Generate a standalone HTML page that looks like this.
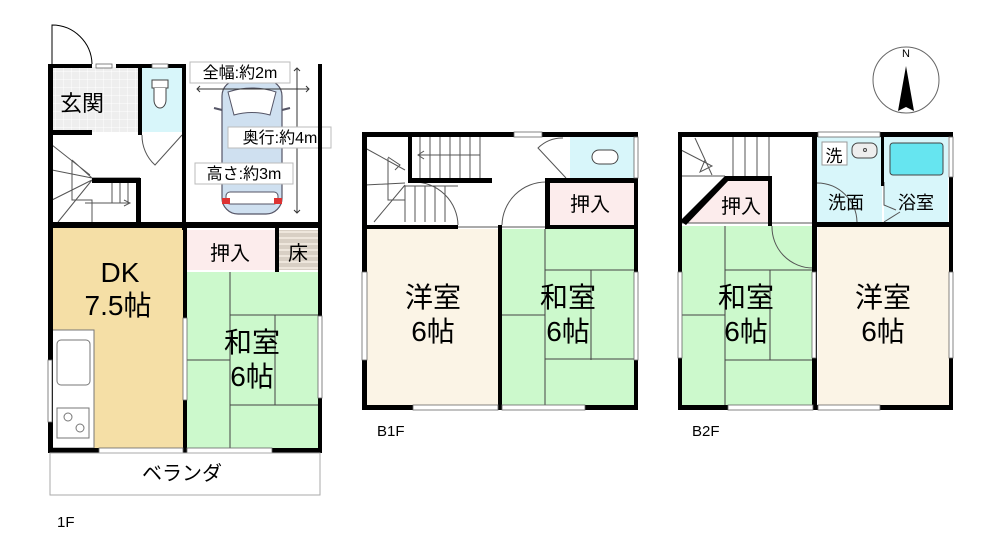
<!DOCTYPE html>
<html><head><meta charset="utf-8"><style>
html,body{margin:0;padding:0;background:#fff;width:1000px;height:550px;overflow:hidden}
svg{display:block}
text{font-family:"Liberation Sans","Noto Sans CJK JP",sans-serif;fill:#000}
</style></head><body>
<svg width="1000" height="550" viewBox="0 0 1000 550" xmlns="http://www.w3.org/2000/svg">
<defs>
<pattern id="grid" width="8" height="8" patternUnits="userSpaceOnUse"><rect width="8" height="8" fill="#eee"/><path d="M8 0V8H0" fill="none" stroke="#fff" stroke-width="1"/></pattern>
<pattern id="stripe" width="6" height="6" patternUnits="userSpaceOnUse"><rect width="6" height="6" fill="#d8cfc4"/><rect y="3" width="6" height="2" fill="#eee6dc"/></pattern>
</defs>
<!-- ===== 1F ===== -->
<path d="M52 64 V25 A40 40 0 0 1 92 64" fill="none" stroke="#000" stroke-width="1"/>
<rect x="52" y="67" width="89" height="65" fill="url(#grid)"/>
<rect x="141" y="67" width="41" height="65" fill="#d8f6fa"/>
<rect x="152" y="80" width="16" height="8" fill="#fff" stroke="#444"/>
<path d="M154 88 V100 A6 8 0 0 0 166 100 V88" fill="#fff" stroke="#444"/>
<rect x="52" y="228" width="131" height="220" fill="#f5dfa6"/>
<rect x="52" y="330" width="42" height="118" fill="#fff" stroke="#777" stroke-width="1"/>
<rect x="57" y="340" width="33" height="45" rx="4" fill="#fff" stroke="#777"/>
<rect x="57" y="408" width="32" height="30" fill="#fff" stroke="#777"/>
<circle cx="68" cy="417" r="4" fill="none" stroke="#777"/><circle cx="80" cy="428" r="4" fill="none" stroke="#777"/>
<rect x="187" y="230" width="88" height="40" fill="#fcecec"/>
<rect x="279" y="230" width="39" height="40" fill="url(#stripe)"/>
<rect x="187" y="272" width="131" height="176" fill="#ccf9cc"/>
<g stroke="#444" stroke-width="1" fill="none">
<path d="M230 272V448M230 315H318M275 315V405M230 405H318M187 360H230"/>
</g>
<!-- stairs 1F -->
<g stroke="#555" stroke-width="1" fill="none">
<path d="M52 145L90 175M52 170L92 178M72 160L92 178M72 160V200H92M52 200L92 180M58 222L92 180M92 178H140M112 182V203M120 182V203M128 182V203M72 200H92 V222"/>
<path d="M85 203H130M124 200L130 203L124 206"/>
<path d="M142 135 A40 40 0 0 0 155 165 L182 135"/>
</g>
<!-- car -->
<g>
<rect x="222" y="80" width="60" height="134" rx="16" fill="#cfe0f0" stroke="#556" stroke-width="1.2"/>
<path d="M228 92 Q252 84 276 92 L270 115 Q252 110 234 115 Z" fill="#fff" stroke="#556"/>
<rect x="226" y="192" width="52" height="12" rx="4" fill="#fff" stroke="#556"/>
<rect x="222" y="198" width="8" height="6" fill="#d33"/><rect x="274" y="198" width="8" height="6" fill="#d33"/>
<path d="M214 108L222 110M290 108L282 110" stroke="#556" stroke-width="2"/>
</g>
<g stroke="#333" stroke-width="1" fill="none">
<path d="M197 89H309M200 86L197 89L200 92M306 86L309 89L306 92"/>
<path d="M297 68V213M294 71L297 68L300 71M294 210L297 213L300 210"/>
</g>
<rect x="190" y="62" width="100" height="21" fill="#fff" stroke="#bbb"/>
<text x="240" y="78" font-size="16" text-anchor="middle">全幅:約2m</text>
<rect x="228" y="127" width="103" height="21" fill="#fff" stroke="#bbb"/>
<text x="280" y="143" font-size="16" text-anchor="middle">奥行:約4m</text>
<rect x="195" y="163" width="98" height="21" fill="#fff" stroke="#bbb"/>
<text x="244" y="179" font-size="16" text-anchor="middle">高さ:約3m</text>
<!-- 1F walls -->
<g fill="#000">
<rect x="48" y="64" width="5" height="389"/>
<rect x="48" y="64" width="44" height="4"/><rect x="116" y="64" width="70" height="4"/>
<rect x="138" y="64" width="4" height="70"/>
<rect x="182" y="64" width="4" height="166"/>
<rect x="318" y="64" width="4" height="389"/>
<rect x="48" y="130" width="44" height="5"/><rect x="138" y="130" width="4" height="5"/>
<rect x="92" y="178" width="48" height="5"/><rect x="136" y="178" width="5" height="44"/>
<rect x="48" y="222" width="274" height="6"/>
<rect x="183" y="228" width="4" height="225"/>
<rect x="275" y="228" width="4" height="44"/>
<rect x="48" y="448" width="274" height="5"/>
</g>
<g fill="#fff" stroke="#666" stroke-width="0.8">
<rect x="96" y="64" width="16" height="4"/><rect x="152" y="64" width="16" height="4"/>
<rect x="99" y="448" width="84" height="5"/><rect x="187" y="448" width="85" height="5"/>
<rect x="48" y="360" width="4" height="62"/><rect x="183" y="318" width="4" height="82"/>
<rect x="318" y="316" width="4" height="82"/>
</g>
<rect x="50" y="453" width="270" height="42" fill="none" stroke="#aaa"/>
<text x="82" y="111" font-size="22" text-anchor="middle">玄関</text>
<text x="120" y="282" font-size="28" text-anchor="middle">DK</text>
<text x="118" y="315" font-size="28" text-anchor="middle">7.5帖</text>
<text x="230" y="260" font-size="20" text-anchor="middle">押入</text>
<text x="298" y="260" font-size="20" text-anchor="middle">床</text>
<text x="252" y="352" font-size="28" text-anchor="middle">和室</text>
<text x="252" y="386" font-size="28" text-anchor="middle">6帖</text>
<text x="182" y="480" font-size="20" text-anchor="middle">ベランダ</text>
<text x="57" y="527" font-size="15">1F</text>
<!-- ===== B1F ===== -->
<rect x="570" y="137" width="64" height="41" fill="#d8f6fa"/>
<rect x="592" y="150" width="26" height="14" rx="7" fill="#fff" stroke="#444"/>
<rect x="548" y="183" width="86" height="42" fill="#fcecec"/>
<rect x="366" y="229" width="132" height="176" fill="#fbf4e6"/>
<rect x="502" y="229" width="132" height="176" fill="#ccf9cc"/>
<g stroke="#444" stroke-width="1" fill="none">
<path d="M545 229V405M545 270H634M591 270V360M545 359H634M502 315H545"/>
</g>
<g stroke="#555" stroke-width="1" fill="none">
<path d="M365 148L405 170M365 185L405 183M388 158V200H405M374 222L405 185M388 157L400 165L395 170"/>
<path d="M410 135V178M420 135V178M430 135V178M440 135V178M450 135V178M460 135V178M470 135V178M480 135V178"/>
<path d="M418 155H480M424 151L418 155L424 159"/>
<path d="M405 186V222M415 186V222M425 186V222M435 186V222M445 186V222M405 186H458"/>
<path d="M458 225 A44 44 0 0 0 414 182M502 225 A44 44 0 0 1 546 182"/>
<path d="M563 138 A35 35 0 0 0 538 148 L566 178"/>
<path d="M458 227H545"/>
</g>
<g fill="#000">
<rect x="362" y="132" width="276" height="5"/>
<rect x="362" y="132" width="5" height="278"/>
<rect x="634" y="132" width="4" height="278"/>
<rect x="408" y="135" width="4" height="47"/>
<rect x="408" y="178" width="84" height="5"/>
<rect x="545" y="178" width="93" height="5"/>
<rect x="545" y="178" width="5" height="51"/>
<rect x="362" y="225" width="96" height="4"/>
<rect x="545" y="225" width="93" height="4"/>
<rect x="498" y="225" width="4" height="185"/>
<rect x="362" y="405" width="276" height="5"/>
</g>
<g fill="#fff" stroke="#666" stroke-width="0.8">
<rect x="514" y="132" width="28" height="5"/>
<rect x="413" y="405" width="85" height="5"/><rect x="502" y="405" width="83" height="5"/>
<rect x="362" y="272" width="5" height="88"/><rect x="634" y="272" width="4" height="88"/>
<rect x="634" y="137" width="4" height="41"/>
</g>
<text x="433" y="307" font-size="28" text-anchor="middle">洋室</text>
<text x="433" y="341" font-size="28" text-anchor="middle">6帖</text>
<text x="568" y="307" font-size="28" text-anchor="middle">和室</text>
<text x="568" y="341" font-size="28" text-anchor="middle">6帖</text>
<text x="590" y="211" font-size="20" text-anchor="middle">押入</text>
<text x="377" y="436" font-size="15">B1F</text>
<!-- ===== B2F ===== -->
<circle cx="906" cy="80" r="33" fill="none" stroke="#666"/>
<text x="906" y="57" font-size="11" text-anchor="middle" font-family="Liberation Serif">N</text>
<path d="M906 66L898 111L906 107L914 111Z" fill="#000"/>
<rect x="817" y="136" width="65" height="86" fill="#d8f6fa"/>
<rect x="884" y="136" width="64" height="86" fill="#d8f6fa"/>
<rect x="890" y="143" width="53" height="32" rx="3" fill="#66e5f0" stroke="#444"/>
<rect x="822" y="142" width="25" height="23" fill="#fff" stroke="#999"/>
<rect x="852" y="143" width="25" height="15" rx="6" fill="#eee" stroke="#444"/>
<circle cx="865" cy="150" r="1.5" fill="none" stroke="#444"/>
<path d="M683 223L725 178H771V222Z" fill="#fcecec"/>
<rect x="681" y="226" width="132" height="179" fill="#ccf9cc"/>
<rect x="818" y="226" width="131" height="179" fill="#fbf4e6"/>
<g stroke="#444" stroke-width="1" fill="none">
<path d="M725 226V405M725 270H813M770 270V360M725 360H813M681 315H725"/>
</g>
<g stroke="#555" stroke-width="1" fill="none">
<path d="M733 136V178M745 136V178M757 136V178M769 136V178M681 176H725"/>
<path d="M695 138L712 175M681 150L712 166L700 172L705 160"/>
<path d="M772 226 A41 41 0 0 0 813 268M681 223H813"/>
<path d="M817 183 A40 40 0 0 1 857 222M884 182V205L896 210M884 222L900 212"/>
</g>
<g fill="#000">
<rect x="678" y="132" width="275" height="5"/>
<rect x="678" y="132" width="4" height="278"/>
<rect x="949" y="132" width="4" height="278"/>
<rect x="812" y="132" width="5" height="278"/>
<rect x="881" y="136" width="3" height="50"/>
<rect x="725" y="176" width="47" height="5"/>
<rect x="768" y="176" width="4" height="50"/>
<path d="M680 221L725 176L729 180L686 225Z"/>
<rect x="812" y="222" width="141" height="5"/>
<rect x="678" y="405" width="275" height="5"/>
</g>
<g fill="#fff" stroke="#666" stroke-width="0.8">
<rect x="818" y="132" width="62" height="5"/>
<rect x="949" y="137" width="4" height="40"/>
<rect x="728" y="405" width="85" height="5"/><rect x="818" y="405" width="62" height="5"/>
<rect x="678" y="272" width="4" height="86"/><rect x="949" y="272" width="4" height="86"/>
<rect x="812" y="272" width="4" height="86"/>
</g>
<text x="834" y="162" font-size="17" text-anchor="middle">洗</text>
<text x="846" y="209" font-size="18" text-anchor="middle">洗面</text>
<text x="916" y="209" font-size="18" text-anchor="middle">浴室</text>
<text x="741" y="213" font-size="20" text-anchor="middle">押入</text>
<text x="746" y="307" font-size="28" text-anchor="middle">和室</text>
<text x="746" y="341" font-size="28" text-anchor="middle">6帖</text>
<text x="883" y="307" font-size="28" text-anchor="middle">洋室</text>
<text x="883" y="341" font-size="28" text-anchor="middle">6帖</text>
<text x="692" y="436" font-size="15">B2F</text>
</svg>
</body></html>
